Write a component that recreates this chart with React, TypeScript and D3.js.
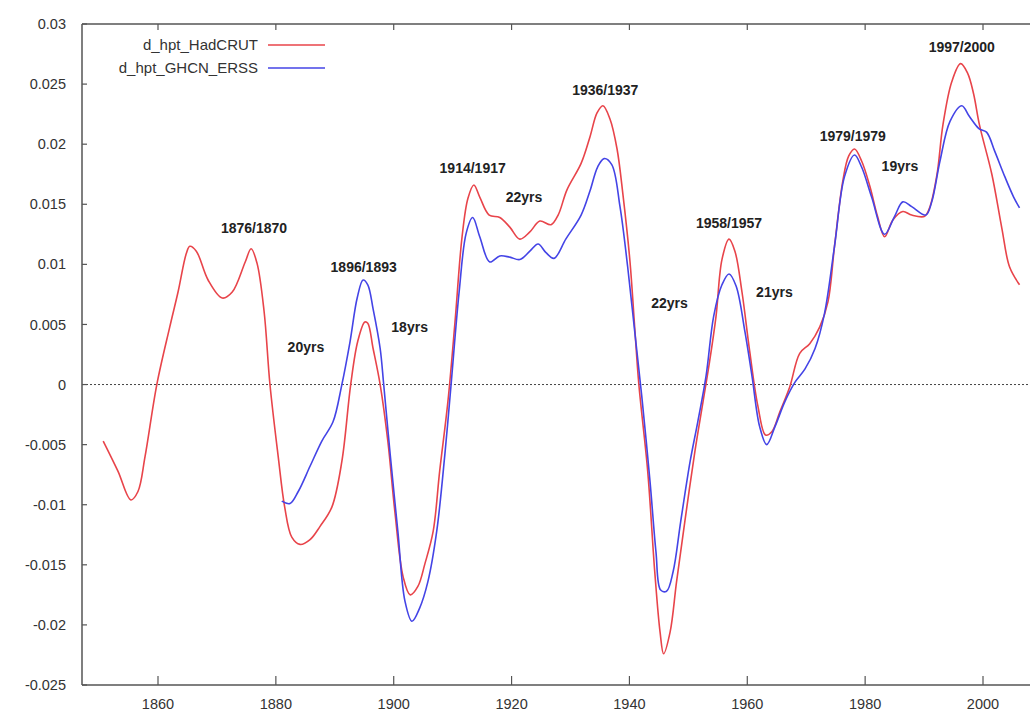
import React from "react";
import * as d3 from "d3";

// d_hpt_HadCRUT series (year, value)
const hadYears = [
  1850.7, 1853.2, 1855.4, 1856.6, 1857.8, 1859.8, 1862.0, 1863.4, 1864.8, 1865.4,
  1866.5, 1868.5, 1870.9, 1872.6, 1874.8, 1875.8, 1876.8, 1878.0, 1879.0, 1880.4,
  1881.5, 1882.7, 1884.1, 1885.8, 1887.5, 1889.5, 1891.2, 1892.7, 1893.9, 1895.1,
  1895.6, 1896.5, 1897.7, 1899.0, 1900.2, 1901.6, 1902.8, 1904.1, 1905.3, 1906.7,
  1907.8, 1909.2, 1910.4, 1911.6, 1912.6, 1913.6, 1914.6, 1916.2, 1918.0, 1919.7,
  1921.4, 1923.1, 1924.8, 1926.7, 1927.9, 1929.4, 1931.8, 1933.3, 1934.5, 1935.5,
  1936.7, 1937.9, 1938.9, 1940.1, 1940.9, 1941.6, 1943.1, 1944.3, 1945.2, 1945.8,
  1946.9, 1948.0, 1949.4, 1951.1, 1952.5, 1953.6, 1954.7, 1955.7, 1956.9, 1957.9,
  1959.1, 1960.4, 1961.8, 1963.1, 1964.2, 1965.5, 1967.2, 1968.9, 1970.6, 1972.3,
  1973.7, 1974.8, 1976.2, 1977.2, 1978.2, 1979.4, 1980.8, 1982.1, 1983.3, 1984.7,
  1986.4, 1987.9, 1990.1, 1991.0, 1992.2, 1993.2, 1994.7, 1996.2, 1997.4, 1998.4,
  1999.4, 2001.5, 2003.2, 2004.5, 2006.2,
];
const hadValues = [
  -0.0047, -0.0072, -0.0096, -0.0089, -0.006, 0.0, 0.0048, 0.0077, 0.0109, 0.0115,
  0.0111, 0.0087, 0.0072, 0.0077, 0.0102, 0.0113, 0.0101, 0.0061, 0.0, -0.006,
  -0.0102, -0.0127, -0.0133, -0.0129, -0.0118, -0.0102, -0.0064, 0.0, 0.0036, 0.0052,
  0.0051, 0.003, 0.0, -0.0047, -0.0106, -0.016, -0.0175, -0.0168, -0.0149, -0.0122,
  -0.0072, -0.0014, 0.0052, 0.0123, 0.0155, 0.0166, 0.0156, 0.0141, 0.0139, 0.0131,
  0.0121, 0.0127, 0.0136, 0.0133, 0.0141, 0.0162, 0.0184, 0.0206, 0.0226, 0.0232,
  0.0221, 0.0196, 0.0158, 0.0102, 0.0047, 0.0, -0.0072, -0.0156, -0.0206, -0.0224,
  -0.0206, -0.0164, -0.0114, -0.0056, -0.0014, 0.0019, 0.0057, 0.0104, 0.0121, 0.0111,
  0.0077, 0.0028, -0.0018, -0.0042, -0.0039, -0.0023, -0.0002, 0.0026, 0.0034, 0.0048,
  0.0069, 0.0115, 0.0169, 0.019, 0.0196, 0.0186, 0.0165, 0.014, 0.0123, 0.0137,
  0.0144, 0.0141, 0.014, 0.0148, 0.0175, 0.0216, 0.0252, 0.0267, 0.0259, 0.0242,
  0.0216, 0.0175, 0.013, 0.0098, 0.0083,
];

// d_hpt_GHCN_ERSS series (year, value)
const ghcnYears = [
  1881.0, 1882.4, 1883.8, 1885.8, 1887.8, 1889.7, 1891.2, 1892.6, 1893.8, 1894.8,
  1895.6, 1896.5, 1897.7, 1898.3, 1899.4, 1900.7, 1901.9, 1903.1, 1904.4, 1905.8,
  1907.3, 1908.7, 1909.7, 1911.1, 1912.3, 1913.4, 1914.6, 1916.3, 1918.0, 1919.7,
  1921.4, 1923.1, 1924.5, 1925.8, 1927.2, 1929.2, 1931.8, 1933.3, 1934.6, 1935.7,
  1937.0, 1938.4, 1939.7, 1940.9, 1942.1, 1943.5, 1944.5, 1945.3, 1946.3, 1947.4,
  1948.7, 1950.3, 1951.6, 1953.0, 1954.3, 1955.7, 1956.9, 1958.1, 1959.6, 1960.8,
  1962.1, 1963.3, 1964.7, 1966.4, 1968.1, 1969.8, 1971.5, 1973.1, 1974.8, 1976.5,
  1978.2, 1979.4, 1981.1, 1983.3, 1985.0, 1986.4, 1987.9, 1990.3, 1991.3, 1992.7,
  1994.4, 1996.4, 1997.7, 1999.3, 2000.6, 2002.0, 2003.7, 2005.2, 2006.2,
];
const ghcnValues = [
  -0.0097, -0.0099, -0.0089, -0.0068, -0.0047, -0.0031, 0.0, 0.0036, 0.0072, 0.0087,
  0.0083, 0.0063, 0.003, 0.0, -0.0058, -0.0122, -0.018, -0.0197, -0.0186, -0.0164,
  -0.0122, -0.0057, -0.0002, 0.0077, 0.0126, 0.0139, 0.0123, 0.0102, 0.0107, 0.0106,
  0.0104, 0.0111, 0.0117, 0.011, 0.0105, 0.0121, 0.0141, 0.0161, 0.0181, 0.0188,
  0.0183, 0.0148, 0.0098, 0.0044, -0.001, -0.0081, -0.0139, -0.0171, -0.0172, -0.0156,
  -0.0114, -0.0064, -0.0031, 0.0007, 0.0057, 0.0083, 0.0092, 0.0082, 0.0044, 0.0007,
  -0.0035, -0.005, -0.0035, -0.0014, 0.0002, 0.0013, 0.003, 0.0059, 0.0115, 0.0173,
  0.0191, 0.0181, 0.0156, 0.0125, 0.014, 0.0152, 0.0148, 0.0141, 0.0152, 0.0186,
  0.0219, 0.0232, 0.0223, 0.0213, 0.021, 0.0194, 0.0173, 0.0156, 0.0147,
];

const xTicks = [1860, 1880, 1900, 1920, 1940, 1960, 1980, 2000];
const yTicks = [0.03, 0.025, 0.02, 0.015, 0.01, 0.005, 0, -0.005, -0.01, -0.015, -0.02, -0.025];
const yTickLabels = ["0.03", "0.025", "0.02", "0.015", "0.01", "0.005", "0", "-0.005", "-0.01", "-0.015", "-0.02", "-0.025"];

// Peak year labels and cycle-length labels: [text, year, value]
const peakLabels: [string, number, number][] = [
  ["1876/1870", 1876.3, 0.0130],
  ["1896/1893", 1894.9, 0.0098],
  ["1914/1917", 1913.4, 0.0180],
  ["1936/1937", 1935.9, 0.0245],
  ["1958/1957", 1956.9, 0.0134],
  ["1979/1979", 1977.9, 0.0207],
  ["1997/2000", 1996.4, 0.0281],
];
const spanLabels: [string, number, number][] = [
  ["20yrs", 1885.1, 0.0031],
  ["18yrs", 1902.7, 0.0048],
  ["22yrs", 1922.1, 0.0156],
  ["22yrs", 1946.8, 0.0068],
  ["21yrs", 1964.6, 0.0077],
  ["19yrs", 1985.9, 0.0182],
];

const legendItems = [
  { name: "d_hpt_HadCRUT", color: "#e8444a" },
  { name: "d_hpt_GHCN_ERSS", color: "#4444e6" },
];

const W = 1030;
const H = 716;

export default function App() {
  const x = d3.scaleLinear().domain([1860, 2000]).range([158, 983]);
  const y = d3.scaleLinear().domain([-0.025, 0.03]).range([685, 24]);
  const left = 82;
  const right = W + 5;
  const top = y(0.03);
  const bottom = y(-0.025);

  const line = d3
    .line<[number, number]>()
    .x((d) => x(d[0]))
    .y((d) => y(d[1]))
    .curve(d3.curveCatmullRom.alpha(0.5));

  const had = hadYears.map((yr, i) => [yr, hadValues[i]] as [number, number]);
  const ghcn = ghcnYears.map((yr, i) => [yr, ghcnValues[i]] as [number, number]);

  const axisColor = "#555";
  const textColor = "#333";
  const font = "'Liberation Sans', Arial, sans-serif";

  return (
    <svg
      width={W}
      height={H}
      style={{ position: "absolute", left: 0, top: 0, background: "#fff" }}
      fontFamily={font}
    >
      <rect x={0} y={0} width={W} height={H} fill="#fff" />

      {/* zero line */}
      <line x1={left} x2={right} y1={y(0)} y2={y(0)} stroke="#444" strokeWidth={1} strokeDasharray="2,2" />

      {/* series */}
      <path d={line(had) || ""} fill="none" stroke={legendItems[0].color} strokeWidth={1.6} />
      <path d={line(ghcn) || ""} fill="none" stroke={legendItems[1].color} strokeWidth={1.6} />

      {/* frame */}
      <line x1={left} x2={left} y1={top} y2={bottom} stroke={axisColor} strokeWidth={1.5} />
      <line x1={left} x2={right} y1={top} y2={top} stroke={axisColor} strokeWidth={1.5} />
      <line x1={left} x2={right} y1={bottom} y2={bottom} stroke={axisColor} strokeWidth={1.5} />

      {/* y ticks */}
      {yTicks.map((t, i) => (
        <g key={"y" + i}>
          <line x1={left} x2={left + 5} y1={y(t)} y2={y(t)} stroke={axisColor} strokeWidth={1.2} />
          <text x={66} y={y(t)} dy="0.35em" textAnchor="end" fontSize={14.5} fill={textColor}>
            {yTickLabels[i]}
          </text>
        </g>
      ))}

      {/* x ticks */}
      {xTicks.map((t) => (
        <g key={"x" + t}>
          <line x1={x(t)} x2={x(t)} y1={bottom} y2={bottom - 9} stroke={axisColor} strokeWidth={1.2} />
          <line x1={x(t)} x2={x(t)} y1={top} y2={top + 6} stroke={axisColor} strokeWidth={1.2} />
          <text x={x(t)} y={709} textAnchor="middle" fontSize={14.5} fill={textColor}>
            {t}
          </text>
        </g>
      ))}

      {/* legend */}
      {legendItems.map((item, i) => (
        <g key={item.name}>
          <text x={258} y={45 + i * 23} dy="0.35em" textAnchor="end" fontSize={15} fill={textColor}>
            {item.name}
          </text>
          <line x1={268} x2={325} y1={45 + i * 23} y2={45 + i * 23} stroke={item.color} strokeWidth={1.6} />
        </g>
      ))}

      {/* annotations */}
      {[...peakLabels, ...spanLabels].map(([txt, yr, v], i) => (
        <text
          key={"a" + i}
          x={x(yr)}
          y={y(v)}
          dy="0.35em"
          textAnchor="middle"
          fontSize={14}
          fontWeight="bold"
          fill="#222"
        >
          {txt}
        </text>
      ))}
    </svg>
  );
}
